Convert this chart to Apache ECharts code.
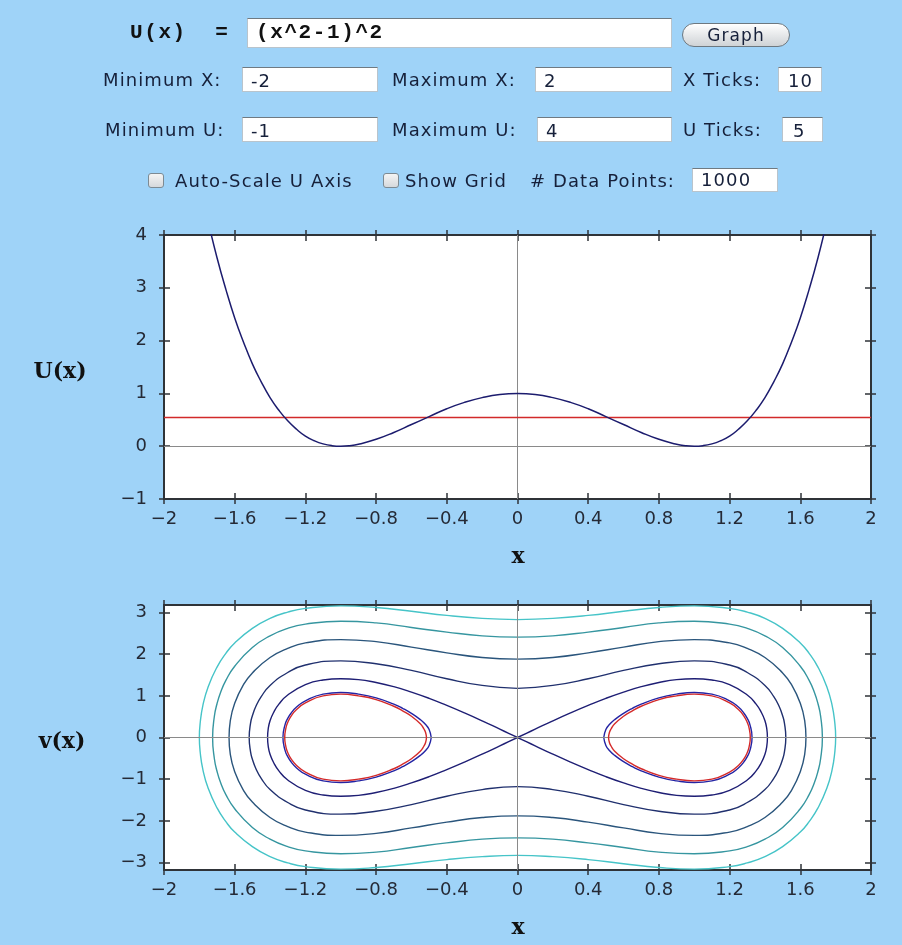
<!DOCTYPE html>
<html>
<head>
<meta charset="utf-8">
<script src="https://cdn.jsdelivr.net/npm/echarts@6/dist/echarts.min.js"></script>
<style>
  html, body { margin: 0; padding: 0; }
  body { width: 902px; height: 945px; background: #9fd3f8; overflow: hidden; }
  #wrap { position: relative; width: 902px; height: 945px; }
  #chart { position: absolute; left: 0; top: 0; width: 902px; height: 945px; }
  .f { position: absolute; font-family: "DejaVu Sans", sans-serif; font-size: 18px; letter-spacing: 1.1px; color: #16203a; white-space: nowrap; }
  .lbl { height: 25px; line-height: 25px; }
  .box { background: #fff; border: 1px solid #b9c4cc; border-top: 1px solid #6f7a82; box-sizing: border-box; padding-left: 8px; }
  .mono { font-family: "Liberation Mono", "DejaVu Sans Mono", monospace; font-weight: bold; font-size: 21px; letter-spacing: 1.6px; color: #111; }
  .btn { border: 1px solid #6d7880; border-radius: 12px; box-sizing: border-box; text-align: center; font-size: 17px; background: linear-gradient(#ffffff, #e4e6e8 55%, #cfd3d6); }
  .chk { width: 16px; height: 15px; border: 1px solid #7d8a93; border-radius: 3px; box-sizing: border-box; background: linear-gradient(#f4f4f4, #d6d9dc); }
</style>
</head>
<body>
<div id="wrap">
  <div id="chart"></div>
  <div class="f mono" style="left:130px; top:20px; height:26px; line-height:26px;">U(x)&nbsp;&nbsp;=</div>
  <div class="f box mono" style="left:247px; top:18px; width:425px; height:30px; line-height:28px; font-size:21px;">(x^2-1)^2</div>
  <div class="f btn" style="left:682px; top:23px; width:108px; height:24px; line-height:22px;">Graph</div>

  <div class="f lbl" style="left:103px; top:67px;">Minimum X:</div>
  <div class="f box lbl" style="left:242px; top:67px; width:136px;">-2</div>
  <div class="f lbl" style="left:392px; top:67px;">Maximum X:</div>
  <div class="f box lbl" style="left:535px; top:67px; width:137px;">2</div>
  <div class="f lbl" style="left:683px; top:67px;">X Ticks:</div>
  <div class="f box lbl" style="left:778px; top:67px; width:44px; padding-left:9px;">10</div>

  <div class="f lbl" style="left:105px; top:117px;">Minimum U:</div>
  <div class="f box lbl" style="left:242px; top:117px; width:136px;">-1</div>
  <div class="f lbl" style="left:392px; top:117px;">Maximum U:</div>
  <div class="f box lbl" style="left:537px; top:117px; width:135px;">4</div>
  <div class="f lbl" style="left:683px; top:117px;">U Ticks:</div>
  <div class="f box lbl" style="left:782px; top:117px; width:41px; padding-left:10px;">5</div>

  <div class="f chk" style="left:148px; top:173px;"></div>
  <div class="f lbl" style="left:175px; top:168px;">Auto-Scale U Axis</div>
  <div class="f chk" style="left:383px; top:173px;"></div>
  <div class="f lbl" style="left:405px; top:168px;">Show Grid</div>
  <div class="f lbl" style="left:530px; top:168px;"># Data Points:</div>
  <div class="f box" style="left:692px; top:168px; width:86px; height:24px; line-height:22px;">1000</div>
</div>
<script>
// ---------- tick labels ----------
const xTickValues = [-2, -1.6, -1.2, -0.8, -0.4, 0, 0.4, 0.8, 1.2, 1.6, 2];
const xTickLabels = ['−2', '−1.6', '−1.2', '−0.8', '−0.4', '0', '0.4', '0.8', '1.2', '1.6', '2'];
const uTickValues = [-1, 0, 1, 2, 3, 4];
const uTickLabels = ['−1', '0', '1', '2', '3', '4'];
const vTickValues = [-3, -2, -1, 0, 1, 2, 3];
const vTickLabels = ['−3', '−2', '−1', '0', '1', '2', '3'];

// ---------- potential U(x) ----------
const potentialX = [-1.75, -1.7, -1.65, -1.6, -1.55, -1.5, -1.45, -1.4, -1.35, -1.3, -1.25, -1.2, -1.15, -1.1, -1.05, -1.0, -0.95, -0.9, -0.8, -0.7, -0.6, -0.5, -0.4, -0.3, -0.2, -0.1, 0,
                    0.1, 0.2, 0.3, 0.4, 0.5, 0.6, 0.7, 0.8, 0.9, 0.95, 1.0, 1.05, 1.1, 1.15, 1.2, 1.25, 1.3, 1.35, 1.4, 1.45, 1.5, 1.55, 1.6, 1.65, 1.7, 1.75];
const potentialU = [4.25, 3.57, 2.97, 2.43, 1.97, 1.56, 1.22, 0.92, 0.68, 0.48, 0.32, 0.19, 0.104, 0.044, 0.0105, 0, 0.0095, 0.036, 0.13, 0.26, 0.41, 0.56, 0.71, 0.83, 0.92, 0.98, 1.0,
                    0.98, 0.92, 0.83, 0.71, 0.56, 0.41, 0.26, 0.13, 0.036, 0.0095, 0, 0.0105, 0.044, 0.104, 0.19, 0.32, 0.48, 0.68, 0.92, 1.22, 1.56, 1.97, 2.43, 2.97, 3.57, 4.25];
const energyLevel = 0.54;

// ---------- phase-plane trajectories v(x) ----------
const orbitE50 = [
  [0,2.83],[0.2,2.86],[0.4,2.93],[0.6,3.03],[0.8,3.12],[1.0,3.16],[1.2,3.10],[1.3,3.01],[1.4,2.86],[1.5,2.62],[1.6,2.27],[1.65,2.02],[1.7,1.69],[1.75,1.22],[1.78,0.77],[1.795,0.36],[1.8,0],
  [1.795,-0.36],[1.78,-0.77],[1.75,-1.22],[1.7,-1.69],[1.65,-2.02],[1.6,-2.27],[1.5,-2.62],[1.4,-2.86],[1.3,-3.01],[1.2,-3.10],[1.0,-3.16],[0.8,-3.12],[0.6,-3.03],[0.4,-2.93],[0.2,-2.86],[0,-2.83],
  [-0.2,-2.86],[-0.4,-2.93],[-0.6,-3.03],[-0.8,-3.12],[-1.0,-3.16],[-1.2,-3.10],[-1.3,-3.01],[-1.4,-2.86],[-1.5,-2.62],[-1.6,-2.27],[-1.65,-2.02],[-1.7,-1.69],[-1.75,-1.22],[-1.78,-0.77],[-1.795,-0.36],[-1.8,0],
  [-1.795,0.36],[-1.78,0.77],[-1.75,1.22],[-1.7,1.69],[-1.65,2.02],[-1.6,2.27],[-1.5,2.62],[-1.4,2.86],[-1.3,3.01],[-1.2,3.10],[-1.0,3.16],[-0.8,3.12],[-0.6,3.03],[-0.4,2.93],[-0.2,2.86],[0,2.83]
];
const orbitE39 = [
  [0,2.41],[0.2,2.44],[0.4,2.53],[0.6,2.64],[0.8,2.75],[1.0,2.79],[1.2,2.72],[1.3,2.62],[1.4,2.44],[1.5,2.16],[1.6,1.71],[1.65,1.37],[1.68,1.08],[1.7,0.81],[1.715,0.51],[1.725,0],
  [1.715,-0.51],[1.7,-0.81],[1.68,-1.08],[1.65,-1.37],[1.6,-1.71],[1.5,-2.16],[1.4,-2.44],[1.3,-2.62],[1.2,-2.72],[1.0,-2.79],[0.8,-2.75],[0.6,-2.64],[0.4,-2.53],[0.2,-2.44],[0,-2.41],
  [-0.2,-2.44],[-0.4,-2.53],[-0.6,-2.64],[-0.8,-2.75],[-1.0,-2.79],[-1.2,-2.72],[-1.3,-2.62],[-1.4,-2.44],[-1.5,-2.16],[-1.6,-1.71],[-1.65,-1.37],[-1.68,-1.08],[-1.7,-0.81],[-1.715,-0.51],[-1.725,0],
  [-1.715,0.51],[-1.7,0.81],[-1.68,1.08],[-1.65,1.37],[-1.6,1.71],[-1.5,2.16],[-1.4,2.44],[-1.3,2.62],[-1.2,2.72],[-1.0,2.79],[-0.8,2.75],[-0.6,2.64],[-0.4,2.53],[-0.2,2.44],[0,2.41]
];
const orbitE28 = [
  [0,1.88],[0.2,1.92],[0.4,2.03],[0.6,2.17],[0.8,2.30],[1.0,2.35],[1.2,2.27],[1.3,2.14],[1.4,1.92],[1.5,1.55],[1.55,1.27],[1.6,0.82],[1.625,0.40],[1.632,0],
  [1.625,-0.40],[1.6,-0.82],[1.55,-1.27],[1.5,-1.55],[1.4,-1.92],[1.3,-2.14],[1.2,-2.27],[1.0,-2.35],[0.8,-2.30],[0.6,-2.17],[0.4,-2.03],[0.2,-1.92],[0,-1.88],
  [-0.2,-1.92],[-0.4,-2.03],[-0.6,-2.17],[-0.8,-2.30],[-1.0,-2.35],[-1.2,-2.27],[-1.3,-2.14],[-1.4,-1.92],[-1.5,-1.55],[-1.55,-1.27],[-1.6,-0.82],[-1.625,-0.40],[-1.632,0],
  [-1.625,0.40],[-1.6,0.82],[-1.55,1.27],[-1.5,1.55],[-1.4,1.92],[-1.3,2.14],[-1.2,2.27],[-1.0,2.35],[-0.8,2.30],[-0.6,2.17],[-0.4,2.03],[-0.2,1.92],[0,1.88]
];
const orbitE17 = [
  [0,1.18],[0.2,1.25],[0.4,1.41],[0.6,1.61],[0.8,1.77],[1.0,1.84],[1.2,1.74],[1.3,1.56],[1.4,1.25],[1.45,0.98],[1.48,0.75],[1.5,0.52],[1.51,0.35],[1.518,0],
  [1.51,-0.35],[1.5,-0.52],[1.48,-0.75],[1.45,-0.98],[1.4,-1.25],[1.3,-1.56],[1.2,-1.74],[1.0,-1.84],[0.8,-1.77],[0.6,-1.61],[0.4,-1.41],[0.2,-1.25],[0,-1.18],
  [-0.2,-1.25],[-0.4,-1.41],[-0.6,-1.61],[-0.8,-1.77],[-1.0,-1.84],[-1.2,-1.74],[-1.3,-1.56],[-1.4,-1.25],[-1.45,-0.98],[-1.48,-0.75],[-1.5,-0.52],[-1.51,-0.35],[-1.518,0],
  [-1.51,0.35],[-1.5,0.52],[-1.48,0.75],[-1.45,0.98],[-1.4,1.25],[-1.3,1.56],[-1.2,1.74],[-1.0,1.84],[-0.8,1.77],[-0.6,1.61],[-0.4,1.41],[-0.2,1.25],[0,1.18]
];
const separatrix = [
  [0,0],[0.05,0.10],[0.1,0.20],[0.2,0.40],[0.3,0.59],[0.4,0.77],[0.5,0.94],[0.6,1.09],[0.7,1.22],[0.8,1.32],[0.9,1.39],[1.0,1.41],[1.1,1.38],[1.2,1.27],[1.3,1.02],[1.35,0.80],[1.38,0.60],[1.4,0.40],[1.41,0.22],[1.414,0],
  [1.41,-0.22],[1.4,-0.40],[1.38,-0.60],[1.35,-0.80],[1.3,-1.02],[1.2,-1.27],[1.1,-1.38],[1.0,-1.41],[0.9,-1.39],[0.8,-1.32],[0.7,-1.22],[0.6,-1.09],[0.5,-0.94],[0.4,-0.77],[0.3,-0.59],[0.2,-0.40],[0.1,-0.20],[0.05,-0.10],[0,0],
  [-0.05,0.10],[-0.1,0.20],[-0.2,0.40],[-0.3,0.59],[-0.4,0.77],[-0.5,0.94],[-0.6,1.09],[-0.7,1.22],[-0.8,1.32],[-0.9,1.39],[-1.0,1.41],[-1.1,1.38],[-1.2,1.27],[-1.3,1.02],[-1.35,0.80],[-1.38,0.60],[-1.4,0.40],[-1.41,0.22],[-1.414,0],
  [-1.41,-0.22],[-1.4,-0.40],[-1.38,-0.60],[-1.35,-0.80],[-1.3,-1.02],[-1.2,-1.27],[-1.1,-1.38],[-1.0,-1.41],[-0.9,-1.39],[-0.8,-1.32],[-0.7,-1.22],[-0.6,-1.09],[-0.5,-0.94],[-0.4,-0.77],[-0.3,-0.59],[-0.2,-0.40],[-0.1,-0.20],[-0.05,-0.10],[0,0]
];
const wellRightBlue = [
  [0.488,0],[0.5,0.19],[0.52,0.31],[0.55,0.43],[0.6,0.58],[0.65,0.70],[0.7,0.80],[0.8,0.95],[0.9,1.04],[1.0,1.08],[1.1,1.04],[1.2,0.88],[1.25,0.73],[1.28,0.59],[1.3,0.46],[1.315,0.31],[1.327,0],
  [1.315,-0.31],[1.3,-0.46],[1.28,-0.59],[1.25,-0.73],[1.2,-0.88],[1.1,-1.04],[1.0,-1.08],[0.9,-1.04],[0.8,-0.95],[0.7,-0.80],[0.65,-0.70],[0.6,-0.58],[0.55,-0.43],[0.52,-0.31],[0.5,-0.19],[0.488,0]
];
const wellLeftBlue = [
  [-0.488,0],[-0.5,0.19],[-0.52,0.31],[-0.55,0.43],[-0.6,0.58],[-0.65,0.70],[-0.7,0.80],[-0.8,0.95],[-0.9,1.04],[-1.0,1.08],[-1.1,1.04],[-1.2,0.88],[-1.25,0.73],[-1.28,0.59],[-1.3,0.46],[-1.315,0.31],[-1.327,0],
  [-1.315,-0.31],[-1.3,-0.46],[-1.28,-0.59],[-1.25,-0.73],[-1.2,-0.88],[-1.1,-1.04],[-1.0,-1.08],[-0.9,-1.04],[-0.8,-0.95],[-0.7,-0.80],[-0.65,-0.70],[-0.6,-0.58],[-0.55,-0.43],[-0.52,-0.31],[-0.5,-0.19],[-0.488,0]
];
const wellRightRed = [
  [0.515,0],[0.52,0.12],[0.53,0.21],[0.55,0.33],[0.6,0.51],[0.65,0.64],[0.7,0.75],[0.8,0.91],[0.9,1.00],[1.0,1.04],[1.1,1.00],[1.2,0.83],[1.25,0.67],[1.28,0.52],[1.3,0.36],[1.31,0.23],[1.317,0],
  [1.31,-0.23],[1.3,-0.36],[1.28,-0.52],[1.25,-0.67],[1.2,-0.83],[1.1,-1.00],[1.0,-1.04],[0.9,-1.00],[0.8,-0.91],[0.7,-0.75],[0.65,-0.64],[0.6,-0.51],[0.55,-0.33],[0.53,-0.21],[0.52,-0.12],[0.515,0]
];
const wellLeftRed = [
  [-0.515,0],[-0.52,0.12],[-0.53,0.21],[-0.55,0.33],[-0.6,0.51],[-0.65,0.64],[-0.7,0.75],[-0.8,0.91],[-0.9,1.00],[-1.0,1.04],[-1.1,1.00],[-1.2,0.83],[-1.25,0.67],[-1.28,0.52],[-1.3,0.36],[-1.31,0.23],[-1.317,0],
  [-1.31,-0.23],[-1.3,-0.36],[-1.28,-0.52],[-1.25,-0.67],[-1.2,-0.83],[-1.1,-1.00],[-1.0,-1.04],[-0.9,-1.00],[-0.8,-0.91],[-0.7,-0.75],[-0.65,-0.64],[-0.6,-0.51],[-0.55,-0.33],[-0.53,-0.21],[-0.52,-0.12],[-0.515,0]
];

// ---------- chart ----------
const frameColor = '#2f3338';
const labelFont = { fontFamily: 'DejaVu Sans', fontSize: 18, color: '#252a36' };
function lookup(values, labels) {
  return function (val) {
    for (let i = 0; i < values.length; i++) if (Math.abs(values[i] - val) < 1e-6) return labels[i];
    return '';
  };
}
function axisSet(kind, grid, min, max, values, labels, withLabels) {
  const isX = kind === 'x';
  const sides = isX ? ['bottom', 'top'] : ['left', 'right'];
  const out = [];
  sides.forEach(function (side, si) {
    [false, true].forEach(function (inside) {
      out.push({
        type: 'value', gridIndex: grid, position: side, min: min, max: max,
        splitLine: { show: false },
        axisLine: { show: !inside, onZero: false, lineStyle: { color: frameColor, width: 2 } },
        axisTick: { show: true, inside: inside, length: inside ? 6 : 5, customValues: values, lineStyle: { color: frameColor, width: 1.5 } },
        axisLabel: Object.assign({ show: withLabels && si === 0 && !inside, customValues: values, formatter: lookup(values, labels), margin: isX ? 11 : 17 }, labelFont),
        axisPointer: { show: false }
      });
    });
  });
  return out;
}
const xAxes = [].concat(
  axisSet('x', 0, -2, 2, xTickValues, xTickLabels, true),
  axisSet('x', 1, -2, 2, xTickValues, xTickLabels, true)
);
const yAxes = [].concat(
  axisSet('y', 0, -1, 4, uTickValues, uTickLabels, true),
  axisSet('y', 1, -3.18, 3.18, vTickValues, vTickLabels, true)
);

const zeroLines = {
  silent: true, symbol: ['none', 'none'], animation: false,
  label: { show: false }, emphasis: { disabled: true },
  lineStyle: { color: '#8a8a8a', width: 1, type: 'solid' },
  data: [{ yAxis: 0 }, { xAxis: 0 }]
};
function orbit(data, color, z) {
  return { type: 'line', xAxisIndex: 4, yAxisIndex: 4, data: data, smooth: 0.5, symbol: 'none', showSymbol: false,
           lineStyle: { color: color, width: 1.4 }, z: z, animation: false, silent: true };
}

const chart = echarts.init(document.getElementById('chart'), null, { renderer: 'canvas' });
chart.setOption({
  backgroundColor: 'transparent',
  animation: false,
  grid: [
    { left: 164, top: 235, width: 707, height: 264, show: true, backgroundColor: '#ffffff', borderWidth: 0, containLabel: false, outerBoundsMode: 'none' },
    { left: 164, top: 605, width: 707, height: 265, show: true, backgroundColor: '#ffffff', borderWidth: 0, containLabel: false, outerBoundsMode: 'none' }
  ],
  xAxis: xAxes,
  yAxis: yAxes,
  graphic: [
    { type: 'text', x: 60, y: 372, style: { text: 'U(x)', fill: '#111', font: 'bold 22px "DejaVu Serif"', align: 'center', verticalAlign: 'middle' } },
    { type: 'text', x: 518, y: 557, style: { text: 'x', fill: '#111', font: 'bold 22px "DejaVu Serif"', align: 'center', verticalAlign: 'middle' } },
    { type: 'text', x: 62, y: 742, style: { text: 'v(x)', fill: '#111', font: 'bold 22px "DejaVu Serif"', align: 'center', verticalAlign: 'middle' } },
    { type: 'text', x: 518, y: 928, style: { text: 'x', fill: '#111', font: 'bold 22px "DejaVu Serif"', align: 'center', verticalAlign: 'middle' } }
  ],
  series: [
    { type: 'line', xAxisIndex: 0, yAxisIndex: 0, data: potentialX.map(function (x, i) { return [x, potentialU[i]]; }),
      smooth: 0.5, symbol: 'none', showSymbol: false, lineStyle: { color: '#1c1c6e', width: 1.5 }, z: 5, silent: true,
      markLine: {
        silent: true, symbol: ['none', 'none'], animation: false, label: { show: false }, emphasis: { disabled: true },
        data: [
          { yAxis: 0, lineStyle: { color: '#8a8a8a', width: 1, type: 'solid' } },
          { xAxis: 0, lineStyle: { color: '#8a8a8a', width: 1, type: 'solid' } },
          { yAxis: energyLevel, lineStyle: { color: '#d22a2a', width: 1.3, type: 'solid' } }
        ]
      } },
    Object.assign(orbit(orbitE50, '#46c4c8', 3), { markLine: zeroLines }),
    orbit(orbitE39, '#3696a0', 3),
    orbit(orbitE28, '#2a557c', 3),
    orbit(orbitE17, '#20306e', 3),
    orbit(separatrix, '#1e1e74', 4),
    orbit(wellRightBlue, '#2424a4', 4),
    orbit(wellLeftBlue, '#2424a4', 4),
    orbit(wellRightRed, '#d42a2a', 5),
    orbit(wellLeftRed, '#d42a2a', 5)
  ]
});
</script>
</body>
</html>
